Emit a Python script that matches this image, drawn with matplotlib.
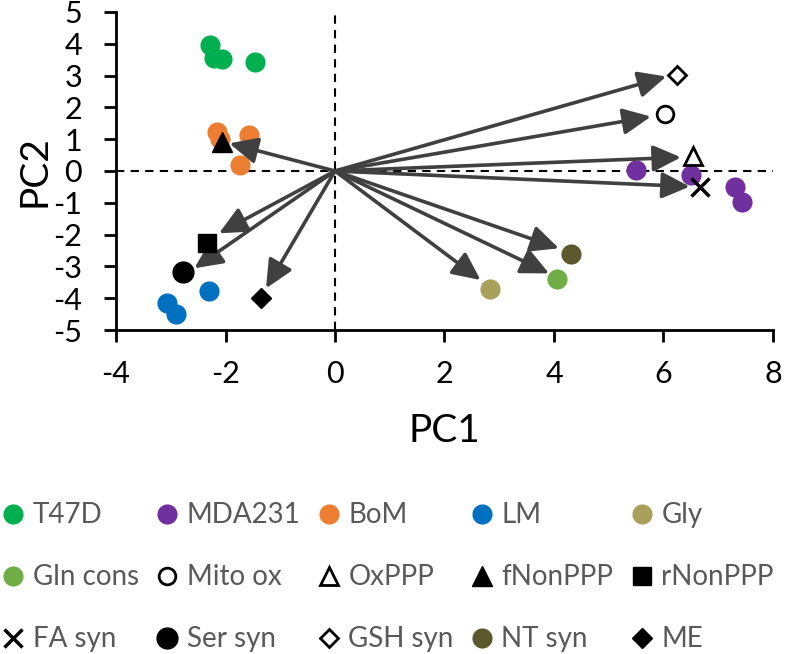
import matplotlib
matplotlib.use("Agg")
import matplotlib.pyplot as plt
from matplotlib.lines import Line2D

plt.rcParams["font.family"] = ["Lato", "DejaVu Sans"]
plt.rcParams["axes.unicode_minus"] = False

# sample scores (PC1, PC2)
groups = ["T47D", "MDA231", "BoM", "LM"]
group_colors = ["#00B050", "#7030A0", "#ED7D31", "#0070C0"]
t47d_x = [-2.28, -2.21, -2.06, -1.46]
t47d_y = [3.96, 3.54, 3.51, 3.44]
mda_x = [5.50, 6.51, 7.30, 7.44]
mda_y = [0.03, -0.13, -0.49, -0.97]
bom_x = [-2.15, -2.10, -1.57, -1.73]
bom_y = [1.24, 1.01, 1.13, 0.19]
lm_x = [-2.30, -3.06, -2.91]
lm_y = [-3.76, -4.16, -4.50]

# loadings: arrow tips and label markers
var_names = ["Gly", "Gln cons", "Mito ox", "OxPPP", "fNonPPP", "rNonPPP",
             "FA syn", "Ser syn", "GSH syn", "NT syn", "ME"]
arrow_x = [2.66, 3.91, 5.77, 6.32, -1.93, -2.12, 6.48, -2.57, 6.05, 4.09, -1.26]
arrow_y = [-3.43, -3.22, 1.71, 0.43, 0.87, -1.96, -0.49, -3.06, 2.97, -2.43, -3.69]
mark_x = [2.83, 4.06, 6.02, 6.54, -2.07, -2.33, 6.66, -2.78, 6.25, 4.31, -1.35]
mark_y = [-3.71, -3.40, 1.79, 0.47, 0.92, -2.25, -0.49, -3.19, 3.02, -2.62, -4.00]

# marker styles for the loading labels
var_style = {
    "Gly": dict(marker="o", ms=14.5, mfc="#A9A15A", mec="none"),
    "Gln cons": dict(marker="o", ms=14.5, mfc="#70AD47", mec="none"),
    "Mito ox": dict(marker="o", ms=12, mfc="white", mec="black", mew=2),
    "OxPPP": dict(marker="^", ms=13, mfc="white", mec="black", mew=2),
    "fNonPPP": dict(marker="^", ms=14, mfc="black", mec="black"),
    "rNonPPP": dict(marker="s", ms=13, mfc="black", mec="black"),
    "FA syn": dict(marker="x", ms=13, mec="black", mew=2.5),
    "Ser syn": dict(marker="o", ms=15, mfc="black", mec="black"),
    "GSH syn": dict(marker="D", ms=9, mfc="white", mec="black", mew=2),
    "NT syn": dict(marker="o", ms=14.5, mfc="#5B582E", mec="none"),
    "ME": dict(marker="D", ms=10, mfc="black", mec="black"),
}

fig = plt.figure(figsize=(7.87, 6.54), dpi=100)
ax = fig.add_axes([0.1474, 0.4954, 0.8348, 0.4863])

ax.axhline(0, color="black", lw=1.5, ls=(0, (4, 3)), zorder=1)
ax.axvline(0, color="black", lw=1.5, ls=(0, (4, 3)), zorder=1)

for xs, ys, c in zip([t47d_x, mda_x, bom_x, lm_x], [t47d_y, mda_y, bom_y, lm_y], group_colors):
    ax.plot(xs, ys, "o", ms=14.5, color=c, mec="none", zorder=2)

for name, ax_, ay_ in zip(var_names, arrow_x, arrow_y):
    ax.annotate("", xy=(ax_, ay_), xytext=(0, 0),
                arrowprops=dict(arrowstyle="-|>,head_length=0.85,head_width=0.4",
                                mutation_scale=20, lw=2.6, color="#404040",
                                shrinkA=0, shrinkB=0),
                zorder=3)

for name, mx, my in zip(var_names, mark_x, mark_y):
    ax.plot(mx, my, ls="none", zorder=4, **var_style[name])

ax.set_xlim(-4, 8)
ax.set_ylim(-5, 5)
ax.set_xticks(range(-4, 9, 2))
ax.set_yticks(range(-5, 6, 1))
for s in ["top", "right"]:
    ax.spines[s].set_visible(False)
for s in ["left", "bottom"]:
    ax.spines[s].set_linewidth(2)
ax.tick_params(length=8.5, width=2, labelsize=22, pad=13)
ax.tick_params(axis="y", pad=16)
ax.set_xlabel("PC1", fontsize=28, labelpad=18)
ax.set_ylabel("PC2", fontsize=28, labelpad=0)

# legend, Excel-like row order
handles = []
for g, c in zip(groups, group_colors):
    handles.append(Line2D([], [], ls="none", marker="o", ms=14.5, mfc=c, mec="none", label=g))
order = ["Gly", "Gln cons", "Mito ox", "OxPPP", "fNonPPP", "rNonPPP",
         "FA syn", "Ser syn", "GSH syn", "NT syn", "ME"]
for name in order:
    handles.append(Line2D([], [], ls="none", label=name, **var_style[name]))
# matplotlib fills columns first -> reorder rows into columns
ncol, nrow = 5, 3
handles = [handles[r * ncol + c] for c in range(ncol) for r in range(nrow)]
leg = fig.legend(handles=handles, ncol=ncol, loc="upper left",
                 bbox_to_anchor=(0.003, 0.232), frameon=False,
                 fontsize=20, labelcolor="#595959", handlelength=0.8,
                 handletextpad=0.3, columnspacing=0.62, labelspacing=1.3,
                 borderaxespad=0, borderpad=0)

fig.savefig("out.png", dpi=100)
